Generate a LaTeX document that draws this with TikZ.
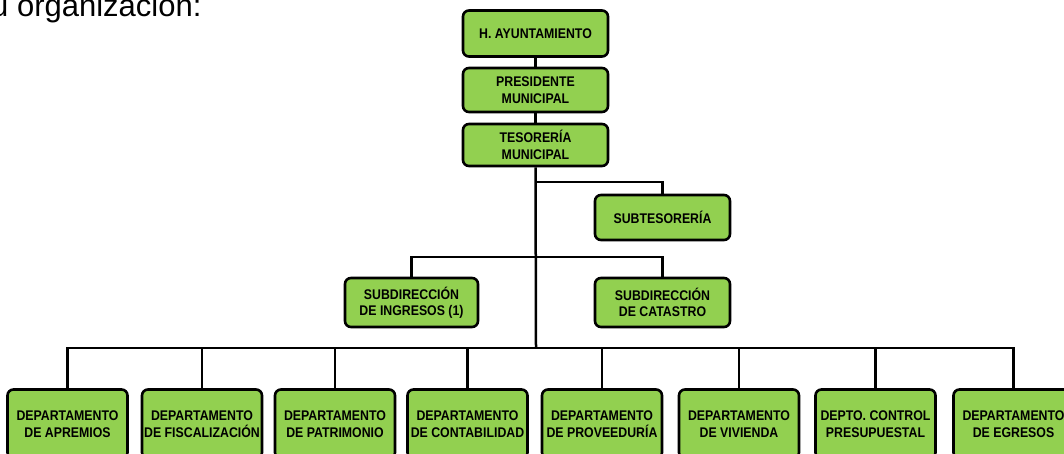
\documentclass[tikz,border=0pt]{standalone}
\usepackage{fontspec}
\setmainfont{Liberation Sans}
\newfontfamily\boxfont{Liberation Sans}[FakeStretch=0.88]
\definecolor{boxgreen}{RGB}{146,208,80}
\tikzset{
  unitbox/.style={draw=black, line width=2.6pt, fill=boxgreen, rounded corners=6pt,
    inner sep=0pt, align=center, text=black,
    font=\boxfont\fontsize{14}{16.5}\selectfont\bfseries},
  topbox/.style={unitbox, minimum width=145pt},
  deptbox/.style={unitbox, minimum width=120pt, minimum height=69pt},
  link/.style={draw=black, line width=2.5pt}
}
\begin{document}
\begin{tikzpicture}[x=1pt, y=-1pt]
\useasboundingbox (0,0) rectangle (1064,454);
\clip (0,0) rectangle (1064,454);
\fill[white] (0,0) rectangle (1064,454);

% running text above the chart
\node[anchor=base west, inner sep=0pt, font=\fontsize{31}{36}\selectfont] (lead) at (-9,17) {u organización:};

% upper chain
\node[topbox, minimum height=46pt] (ayto) at (535.5,33.5) {H. AYUNTAMIENTO};
\node[topbox, minimum height=44pt] (pres) at (535.5,90) {PRESIDENTE\\MUNICIPAL};
\node[topbox, minimum height=42pt] (teso) at (535.5,145) {TESORERÍA\\MUNICIPAL};

% second level
\node[unitbox, minimum width=135pt, minimum height=45pt] (subt) at (662.5,217.5) {SUBTESORERÍA};
\node[unitbox, minimum width=133pt, minimum height=49pt] (ingr) at (411.5,302.5) {SUBDIRECCIÓN\\DE INGRESOS (1)};
\node[unitbox, minimum width=135pt, minimum height=49pt] (cata) at (662.5,302.5) {SUBDIRECCIÓN\\DE CATASTRO};

% departments
\node[deptbox] (d1) at (67.5,424) {DEPARTAMENTO\\DE APREMIOS};
\node[deptbox] (d2) at (202,424) {DEPARTAMENTO\\DE FISCALIZACIÓN};
\node[deptbox] (d3) at (335,424) {DEPARTAMENTO\\DE PATRIMONIO};
\node[deptbox] (d4) at (467.5,424) {DEPARTAMENTO\\DE CONTABILIDAD};
\node[deptbox] (d5) at (602,424) {DEPARTAMENTO\\DE PROVEEDURÍA};
\node[deptbox] (d6) at (739,424) {DEPARTAMENTO\\DE VIVIENDA};
\node[deptbox] (d7) at (875.5,424) {DEPTO. CONTROL\\PRESUPUESTAL};
\node[deptbox] (d8) at (1013.5,424) {DEPARTAMENTO\\DE EGRESOS};

% junctions on the trunk
\coordinate (j1) at (536,182);
\coordinate (j2) at (536,257);
\coordinate (j3) at (536,348);

% connectors
\draw[link] (ayto.south) -- (pres.north);
\draw[link] (pres.south) -- (teso.north);
\draw[link] (teso.south) -- (j3);
\draw[link] (j1) -| (subt.north);
\draw[link] (j2) -| (ingr.north);
\draw[link] (j2) -| (cata.north);
\foreach \d in {d1,d2,d3,d4,d5,d6,d7,d8}{
  \draw[link] (j3) -| (\d.north);
}
\end{tikzpicture}
\end{document}
